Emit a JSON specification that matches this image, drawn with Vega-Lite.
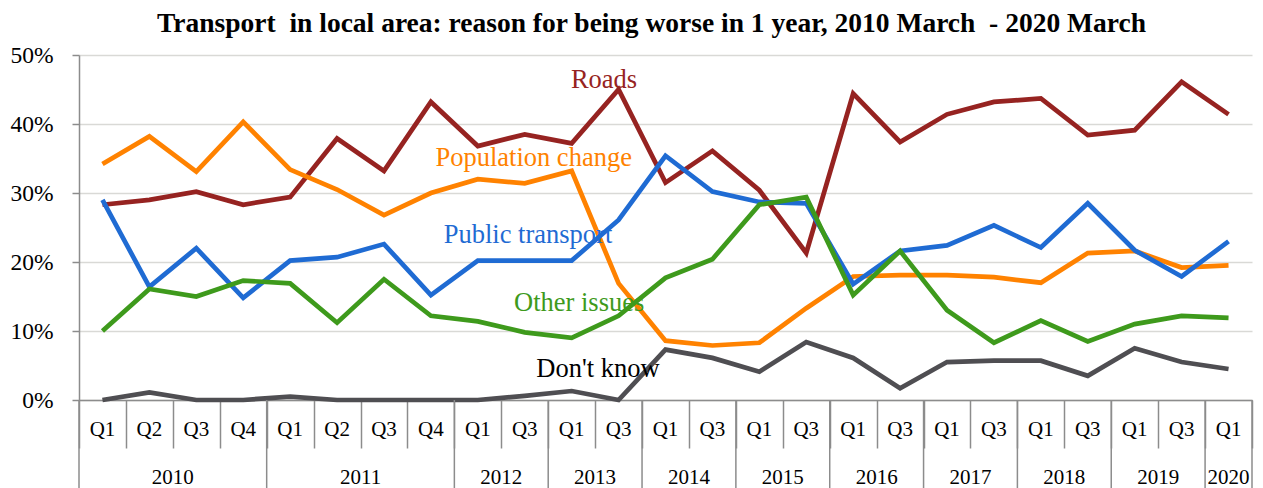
{
  "$schema": "https://vega.github.io/schema/vega-lite/v6.json",
  "width": 1173,
  "height": 345,
  "autosize": {"type": "none"},
  "padding": {"left": 79, "top": 55, "right": 11, "bottom": 88},
  "background": "white",
  "title": {
    "text": "Transport\u00a0 in local area: reason for being worse in 1 year, 2010 March\u00a0 - 2020 March",
    "font": "Liberation Serif",
    "fontSize": 27.5,
    "fontWeight": "bold",
    "color": "black",
    "anchor": "middle",
    "dx": -14,
    "offset": 6
  },
  "config": {"view": {"stroke": null}, "font": "Liberation Serif"},
  "datasets": {
    "main": [
      {"i": 0, "year": "2010", "q": "Q1", "roads": 28.3, "pop": 34.2, "pt": 29.0, "other": 10.0, "dk": 0},
      {"i": 1, "year": "2010", "q": "Q2", "roads": 29.0, "pop": 38.2, "pt": 16.4, "other": 16.1, "dk": 1.1},
      {"i": 2, "year": "2010", "q": "Q3", "roads": 30.2, "pop": 33.1, "pt": 22.0, "other": 15.0, "dk": 0},
      {"i": 3, "year": "2010", "q": "Q4", "roads": 28.3, "pop": 40.3, "pt": 14.8, "other": 17.3, "dk": 0},
      {"i": 4, "year": "2011", "q": "Q1", "roads": 29.4, "pop": 33.4, "pt": 20.2, "other": 16.9, "dk": 0.5},
      {"i": 5, "year": "2011", "q": "Q2", "roads": 37.9, "pop": 30.5, "pt": 20.7, "other": 11.2, "dk": 0},
      {"i": 6, "year": "2011", "q": "Q3", "roads": 33.2, "pop": 26.8, "pt": 22.6, "other": 17.5, "dk": 0},
      {"i": 7, "year": "2011", "q": "Q4", "roads": 43.2, "pop": 30.0, "pt": 15.2, "other": 12.2, "dk": 0},
      {"i": 8, "year": "2012", "q": "Q1", "roads": 36.8, "pop": 32.0, "pt": 20.2, "other": 11.4, "dk": 0},
      {"i": 9, "year": "2012", "q": "Q3", "roads": 38.5, "pop": 31.4, "pt": 20.2, "other": 9.8, "dk": 0.6},
      {"i": 10, "year": "2013", "q": "Q1", "roads": 37.2, "pop": 33.2, "pt": 20.2, "other": 9.0, "dk": 1.3},
      {"i": 11, "year": "2013", "q": "Q3", "roads": 45.0, "pop": 16.9, "pt": 26.1, "other": 12.2, "dk": 0},
      {"i": 12, "year": "2014", "q": "Q1", "roads": 31.5, "pop": 8.6, "pt": 35.4, "other": 17.7, "dk": 7.3},
      {"i": 13, "year": "2014", "q": "Q3", "roads": 36.1, "pop": 7.9, "pt": 30.2, "other": 20.4, "dk": 6.1},
      {"i": 14, "year": "2015", "q": "Q1", "roads": 30.4, "pop": 8.3, "pt": 28.7, "other": 28.3, "dk": 4.1},
      {"i": 15, "year": "2015", "q": "Q3", "roads": 21.3, "pop": 13.3, "pt": 28.5, "other": 29.4, "dk": 8.4},
      {"i": 16, "year": "2016", "q": "Q1", "roads": 44.4, "pop": 17.9, "pt": 16.8, "other": 15.2, "dk": 6.1},
      {"i": 17, "year": "2016", "q": "Q3", "roads": 37.4, "pop": 18.1, "pt": 21.6, "other": 21.6, "dk": 1.7},
      {"i": 18, "year": "2017", "q": "Q1", "roads": 41.4, "pop": 18.1, "pt": 22.4, "other": 13.0, "dk": 5.5},
      {"i": 19, "year": "2017", "q": "Q3", "roads": 43.2, "pop": 17.8, "pt": 25.3, "other": 8.3, "dk": 5.7},
      {"i": 20, "year": "2018", "q": "Q1", "roads": 43.7, "pop": 17.0, "pt": 22.1, "other": 11.5, "dk": 5.7},
      {"i": 21, "year": "2018", "q": "Q3", "roads": 38.4, "pop": 21.3, "pt": 28.5, "other": 8.5, "dk": 3.5},
      {"i": 22, "year": "2019", "q": "Q1", "roads": 39.1, "pop": 21.6, "pt": 21.7, "other": 11.0, "dk": 7.5},
      {"i": 23, "year": "2019", "q": "Q3", "roads": 46.1, "pop": 19.2, "pt": 17.9, "other": 12.2, "dk": 5.5},
      {"i": 24, "year": "2020", "q": "Q1", "roads": 41.4, "pop": 19.5, "pt": 23.0, "other": 11.9, "dk": 4.5}
    ],
    "edges": [
      {"e": -0.5}, {"e": 3.5}, {"e": 7.5}, {"e": 9.5}, {"e": 11.5}, {"e": 13.5},
      {"e": 15.5}, {"e": 17.5}, {"e": 19.5}, {"e": 21.5}, {"e": 23.5}, {"e": 24.5}
    ],
    "labels": [
      {"label": "Roads", "x": 10.69, "y": 46.4},
      {"label": "Population change", "x": 9.19, "y": 35.1},
      {"label": "Public transport", "x": 9.07, "y": 23.9},
      {"label": "Other issues", "x": 10.16, "y": 14.1},
      {"label": "Don't know", "x": 10.56, "y": 4.5}
    ]
  },
  "resolve": {"scale": {"color": "independent"}},
  "layer": [
    {
      "data": {"name": "main"},
      "transform": [{"fold": ["roads", "pop", "pt", "other", "dk"], "as": ["series", "value"]}],
      "mark": {"type": "line", "strokeWidth": 4.7},
      "encoding": {
        "x": {
          "field": "i",
          "type": "quantitative",
          "scale": {"domain": [-0.5, 24.5], "nice": false, "zero": false},
          "axis": {
            "values": [-0.5, 0.5, 1.5, 2.5, 3.5, 4.5, 5.5, 6.5, 7.5, 8.5, 9.5, 10.5, 11.5, 12.5, 13.5, 14.5, 15.5, 16.5, 17.5, 18.5, 19.5, 20.5, 21.5, 22.5, 23.5, 24.5],
            "labels": false,
            "grid": false,
            "ticks": true,
            "domain": true,
            "tickSize": 48,
            "tickColor": "#8c8c8c",
            "tickWidth": 1.5,
            "domainColor": "#8c8c8c",
            "domainWidth": 1.5,
            "title": null
          }
        },
        "y": {
          "field": "value",
          "type": "quantitative",
          "scale": {"domain": [0, 50], "nice": false, "zero": false},
          "axis": {
            "values": [0, 10, 20, 30, 40, 50],
            "labelExpr": "datum.value + '%'",
            "grid": true,
            "gridColor": "#d9d9d6",
            "gridWidth": 1.5,
            "ticks": true,
            "domain": true,
            "tickSize": 7,
            "tickColor": "#8c8c8c",
            "tickWidth": 1.5,
            "domainColor": "#8c8c8c",
            "domainWidth": 1.5,
            "labelFont": "Liberation Serif",
            "labelFontSize": 23.5,
            "labelColor": "black",
            "labelPadding": 19,
            "title": null
          }
        },
        "color": {
          "field": "series",
          "type": "nominal",
          "scale": {
            "domain": ["roads", "pop", "pt", "other", "dk"],
            "range": ["#962321", "#ff8200", "#1f6bd3", "#3e9a1c", "#4f4e52"]
          },
          "legend": null
        }
      }
    },
    {
      "data": {"name": "edges"},
      "mark": {"type": "rule", "color": "#8c8c8c", "strokeWidth": 1.5},
      "encoding": {
        "x": {"field": "e", "type": "quantitative"},
        "y": {"datum": 0, "type": "quantitative"},
        "y2": {"datum": -12.8}
      }
    },
    {
      "data": {"name": "main"},
      "mark": {"type": "text", "fontSize": 21, "baseline": "middle", "align": "center", "color": "black", "font": "Liberation Serif"},
      "encoding": {
        "x": {"field": "i", "type": "quantitative"},
        "y": {"datum": -4.35, "type": "quantitative"},
        "text": {"field": "q"}
      }
    },
    {
      "data": {"name": "main"},
      "transform": [{"aggregate": [{"op": "mean", "field": "i", "as": "mid"}], "groupby": ["year"]}],
      "mark": {"type": "text", "fontSize": 21, "baseline": "middle", "align": "center", "color": "black", "font": "Liberation Serif"},
      "encoding": {
        "x": {"field": "mid", "type": "quantitative"},
        "y": {"datum": -11.3, "type": "quantitative"},
        "text": {"field": "year"}
      }
    },
    {
      "data": {"name": "labels"},
      "mark": {"type": "text", "fontSize": 26.5, "baseline": "middle", "align": "center", "font": "Liberation Serif"},
      "encoding": {
        "x": {"field": "x", "type": "quantitative"},
        "y": {"field": "y", "type": "quantitative"},
        "text": {"field": "label"},
        "color": {
          "field": "label",
          "type": "nominal",
          "scale": {
            "domain": ["Roads", "Population change", "Public transport", "Other issues", "Don't know"],
            "range": ["#962321", "#ff8200", "#1f6bd3", "#3e9a1c", "#000000"]
          },
          "legend": null
        }
      }
    }
  ]
}
